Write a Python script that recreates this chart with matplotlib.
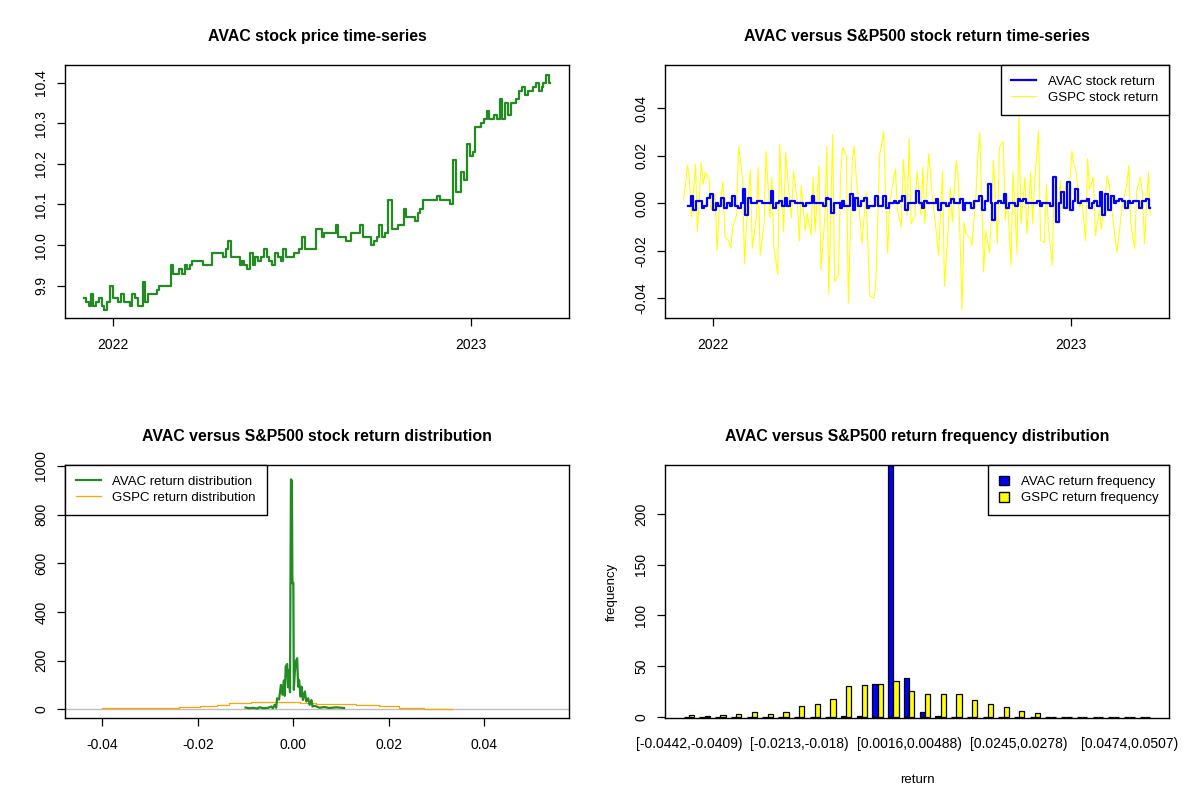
import matplotlib
matplotlib.use('Agg')
import matplotlib.pyplot as plt
from matplotlib.patches import Patch
from matplotlib.lines import Line2D
import numpy as np
import pandas as pd

plt.rcParams['font.family'] = ['Liberation Sans', 'DejaVu Sans']
plt.rcParams['xtick.direction'] = 'out'
plt.rcParams['ytick.direction'] = 'out'

# AVAC closing price, read every second trading day from 2021-12-02
avac_price = [
    9.87, 9.86, 9.85, 9.88, 9.85, 9.86, 9.87, 9.85, 9.84, 9.86,
    9.90, 9.87, 9.87, 9.86, 9.88, 9.86, 9.86, 9.85, 9.88, 9.87,
    9.85, 9.85, 9.91, 9.86, 9.88, 9.88, 9.88, 9.89, 9.90, 9.90,
    9.90, 9.90, 9.95, 9.93, 9.93, 9.94, 9.93, 9.95, 9.94, 9.95,
    9.96, 9.96, 9.96, 9.96, 9.95, 9.95, 9.95, 9.98, 9.98, 9.98,
    9.98, 9.97, 9.99, 10.01, 9.97, 9.97, 9.97, 9.95, 9.96, 9.95,
    9.94, 9.98, 9.95, 9.97, 9.96, 9.97, 9.99, 9.97, 9.96, 9.95,
    9.98, 9.97, 9.96, 9.99, 9.97, 9.97, 9.97, 9.98, 9.98, 9.99,
    10.02, 9.99, 9.99, 9.99, 9.99, 10.04, 10.04, 10.02, 10.03, 10.03,
    10.03, 10.03, 10.05, 10.02, 10.02, 10.02, 10.01, 10.01, 10.03, 10.03,
    10.03, 10.05, 10.02, 10.02, 10.02, 10.00, 10.01, 10.02, 10.05, 10.02,
    10.03, 10.11, 10.11, 10.04, 10.04, 10.05, 10.05, 10.09, 10.07, 10.07,
    10.07, 10.06, 10.08, 10.09, 10.11, 10.11, 10.11, 10.11, 10.11, 10.12,
    10.11, 10.11, 10.11, 10.11, 10.10, 10.21, 10.13, 10.13, 10.18, 10.16,
    10.25, 10.22, 10.23, 10.29, 10.29, 10.30, 10.31, 10.33, 10.31, 10.31,
    10.32, 10.31, 10.36, 10.31, 10.35, 10.32, 10.35, 10.35, 10.36, 10.38,
    10.39, 10.37, 10.38, 10.38, 10.39, 10.40, 10.38, 10.39, 10.40, 10.42, 10.40,
]

# GSPC return on the same days
gspc_return = [
    0.002, 0.016, 0.0095, -0.006, 0.0165, -0.0115, 0.017, 0.008, 0.013, 0.010,
    -0.003, 0.004, -0.020, -0.004, 0.009, -0.014, -0.016, -0.019, -0.010, -0.005,
    0.024, 0.011, -0.0255, -0.010, 0.014, -0.019, -0.0065, 0.015, -0.022, -0.009,
    0.022, -0.006, 0.011, -0.0185, -0.030, 0.025, -0.012, 0.0215, 0.011, -0.006,
    0.0135, 0.001, -0.016, 0.0075, -0.0115, -0.0045, -0.0135, 0.011, -0.012, 0.016,
    -0.028, -0.006, 0.024, -0.038, 0.029, -0.033, -0.030, 0.011, 0.0235, 0.020,
    -0.042, 0.018, 0.024, 0.011, -0.007, -0.017, 0.005, -0.0185, -0.039, -0.040,
    -0.034, 0.021, 0.025, 0.030, -0.021, -0.001, 0.010, 0.0145, -0.003, -0.010,
    0.0185, -0.005, 0.027, -0.0087, -0.005, 0.0137, -0.005, 0.015, -0.0087, 0.021,
    0.010, -0.006, -0.013, -0.022, 0.0137, -0.035, -0.0094, 0.0067, -0.008, 0.018,
    0.0116, -0.045, -0.008, -0.013, -0.0143, -0.0178, 0.0025, 0.019, 0.030, -0.029,
    -0.0115, -0.021, -0.003, 0.018, -0.017, 0.0235, 0.026, -0.007, 0.0025, -0.026,
    0.013, -0.021, 0.0375, -0.0087, 0.011, -0.013, 0.013, -0.0087, 0.0095, 0.0305,
    -0.0157, -0.0164, 0.008, -0.010, -0.026, 0.008, -0.003, 0.0095, -0.003, 0.008,
    -0.003, 0.022, 0.0165, 0.0144, -0.0017, 0.0018, -0.0157, 0.0187, 0.006, 0.011,
    -0.0136, -0.003, -0.0108, -0.0045, 0.0116, 0.008, -0.0073, -0.0143, -0.0206, -0.006,
    0.0004, 0.008, 0.0158, -0.008, -0.0192, 0.0053, 0.011, 0.004, -0.017, 0.013, -0.005,
]

# return distribution curves
avac_dens_x = [-0.0100, -0.0092, -0.0085, -0.0075, -0.0071, -0.0062, -0.0053, -0.0046,
               -0.0043, -0.0039, -0.0036, -0.0034, -0.0030, -0.0026, -0.0023, -0.0020,
               -0.0018, -0.0016, -0.0013, -0.0011, -0.0009, -0.0007, -0.0006, -0.0005,
               -0.0003, -0.0002, 0.0000, 0.0001, 0.0003, 0.0005, 0.0008, 0.0010,
               0.0012, 0.0015, 0.0017, 0.0020, 0.0024, 0.0027, 0.0031, 0.0034,
               0.0038, 0.0040, 0.0045, 0.0055, 0.0065, 0.0075, 0.0090, 0.0106]
avac_dens_y = [7, 4, 6, 3, 8, 4, 6, 11,
               4, 18, 6, 45, 40, 100, 60, 118,
               55, 175, 186, 90, 162, 70, 552, 945,
               940, 518, 520, 80, 150, 196, 210, 93,
               120, 52, 93, 38, 73, 32, 45, 18,
               38, 11, 14, 6, 9, 5, 8, 5]
gspc_dens_x = [-0.0400, -0.0240, -0.0196, -0.0160, -0.0135, -0.0110, -0.0088, -0.0019,
               0.0013, 0.0047, 0.0087, 0.0131, 0.0180, 0.0221, 0.0274, 0.0332]
gspc_dens_y = [4, 8, 14, 19, 25, 26, 31, 30, 25, 22, 20, 16, 12, 7, 3, 3]

# return frequency (30 bins)
avac_freq = [0, 0, 0, 0, 0, 0, 0, 0, 0, 0, 1, 1, 32, 252, 38,
             5, 1, 0, 0, 0, 0, 0, 0, 0, 0, 0, 0, 0, 0, 0]
gspc_freq = [2, 1, 2, 3, 5, 3, 5, 11, 13, 17, 30, 31, 32, 35, 25,
             22, 22, 22, 16, 13, 10, 6, 4, 0, 0, 0, 0, 0, 0, 0]
shown_bins = [0, 7, 14, 21, 28]
shown_labels = ['[-0.0442,-0.0409)', '[-0.0213,-0.018)', '[0.0016,0.00488)',
                '[0.0245,0.0278)', '[0.0474,0.0507)']

dates = pd.bdate_range(start='2021-12-02', periods=len(avac_price), freq='2B')
price = np.array(avac_price)
avac_return = np.diff(price) / price[:-1]

fig = plt.figure(figsize=(12, 8), dpi=100)
W, H = 1200.0, 800.0
TITLE = 11.4
TICK = 10


def make_ax(x0, y0, x1, y1):
    return fig.add_axes([x0 / W, 1 - y1 / H, (x1 - x0) / W, (y1 - y0) / H])


def style(ax):
    for s in ax.spines.values():
        s.set_linewidth(1.0)
    ax.tick_params(axis='both', length=6, width=0.9, labelsize=TICK)
    ax.tick_params(axis='x', pad=8.5)
    ax.tick_params(axis='y', pad=6, labelrotation=90)
    for lbl in ax.get_yticklabels():
        lbl.set_va('center')


def legend(ax, handles, labels, loc, hl=1.9, hh=0.7):
    lg = ax.legend(handles, labels, loc=loc, borderaxespad=0, fancybox=False,
                   edgecolor='black', framealpha=1, fontsize=9.5, handlelength=hl,
                   handleheight=hh, borderpad=0.8, labelspacing=0.3, handletextpad=0.9)
    lg.get_frame().set_linewidth(1.0)
    return lg


tick_years = [pd.Timestamp('2022-01-01'), pd.Timestamp('2023-01-01')]
span = dates[-1] - dates[0]
date_lim = (dates[0] - 0.04 * span, dates[-1] + 0.04 * span)

# panel 1: price
ax1 = make_ax(65, 65, 569, 318)
ax1.plot(dates, price, color='#228B22', lw=1.6, drawstyle='steps-mid')
ax1.set_xlim(date_lim)
ax1.set_ylim(9.8204, 10.4436)
ax1.set_xticks(tick_years)
ax1.set_xticklabels(['2022', '2023'])
ax1.set_yticks([9.9, 10.0, 10.1, 10.2, 10.3, 10.4])
ax1.set_yticklabels(['9.9', '10.0', '10.1', '10.2', '10.3', '10.4'])
ax1.set_title('AVAC stock price time-series', fontsize=TITLE, fontweight='bold', pad=17.5)
style(ax1)

# panel 2: returns
ax2 = make_ax(665, 65, 1169, 318)
ax2.plot(dates, gspc_return, color='#FFFF00', lw=0.75)
ax2.plot(dates[1:], avac_return, color='#0000FF', lw=1.6, drawstyle='steps-mid')
ax2.set_xlim(date_lim)
ax2.set_ylim(-0.0483, 0.0582)
ax2.set_xticks(tick_years)
ax2.set_xticklabels(['2022', '2023'])
ax2.set_yticks([-0.04, -0.02, 0.0, 0.02, 0.04])
ax2.set_yticklabels(['-0.04', '-0.02', '0.00', '0.02', '0.04'])
ax2.set_title('AVAC versus S&P500 stock return time-series', fontsize=TITLE,
              fontweight='bold', pad=17.5)
style(ax2)
legend(ax2, [Line2D([], [], color='#0000FF', lw=1.6), Line2D([], [], color='#FFFF00', lw=0.75)],
       ['AVAC stock return', 'GSPC stock return'], 'upper right')

# panel 3: distributions
ax3 = make_ax(65, 465, 569, 718)
ax3.axhline(0, color='#BEBEBE', lw=1.0)
ax3.plot(gspc_dens_x, gspc_dens_y, color='#FFA500', lw=0.9, drawstyle='steps-post')
ax3.plot(avac_dens_x, avac_dens_y, color='#228B22', lw=1.6)
ax3.set_xlim(-0.0478, 0.0577)
ax3.set_ylim(-36, 1004)
ax3.set_xticks([-0.04, -0.02, 0.0, 0.02, 0.04])
ax3.set_xticklabels(['-0.04', '-0.02', '0.00', '0.02', '0.04'])
ax3.set_yticks([0, 200, 400, 600, 800, 1000])
ax3.set_title('AVAC versus S&P500 stock return distribution', fontsize=TITLE,
              fontweight='bold', pad=17.5)
style(ax3)
legend(ax3, [Line2D([], [], color='#228B22', lw=1.6), Line2D([], [], color='#FFA500', lw=0.9)],
       ['AVAC return distribution', 'GSPC return distribution'], 'upper left')

# panel 4: frequencies
ax4 = make_ax(665, 465, 1169, 718)
grp = np.arange(len(avac_freq)) * 3
ax4.bar(grp + 1.5, avac_freq, width=1.0, color='#0000FF', edgecolor='black', lw=0.9)
ax4.bar(grp + 2.5, gspc_freq, width=1.0, color='#FFFF00', edgecolor='black', lw=0.9)
ax4.set_xlim(-2.56, 93.56)
ax4.set_ylim(-1.3, 248.3)
ax4.set_xticks(grp[shown_bins] + 2)
ax4.set_xticklabels(shown_labels)
ax4.set_yticks([0, 50, 100, 150, 200])
ax4.set_title('AVAC versus S&P500 return frequency distribution', fontsize=TITLE,
              fontweight='bold', pad=17.5)
style(ax4)
ax4.tick_params(axis='x', length=0, pad=14)
ax4.set_xlabel('return', fontsize=9.5, labelpad=16)
ax4.set_ylabel('frequency', fontsize=9.5, labelpad=12)
legend(ax4, [Patch(facecolor='#0000FF', edgecolor='black'), Patch(facecolor='#FFFF00', edgecolor='black')],
       ['AVAC return frequency', 'GSPC return frequency'], 'upper right', hl=0.75, hh=0.75)

fig.savefig('out.png', dpi=100)
